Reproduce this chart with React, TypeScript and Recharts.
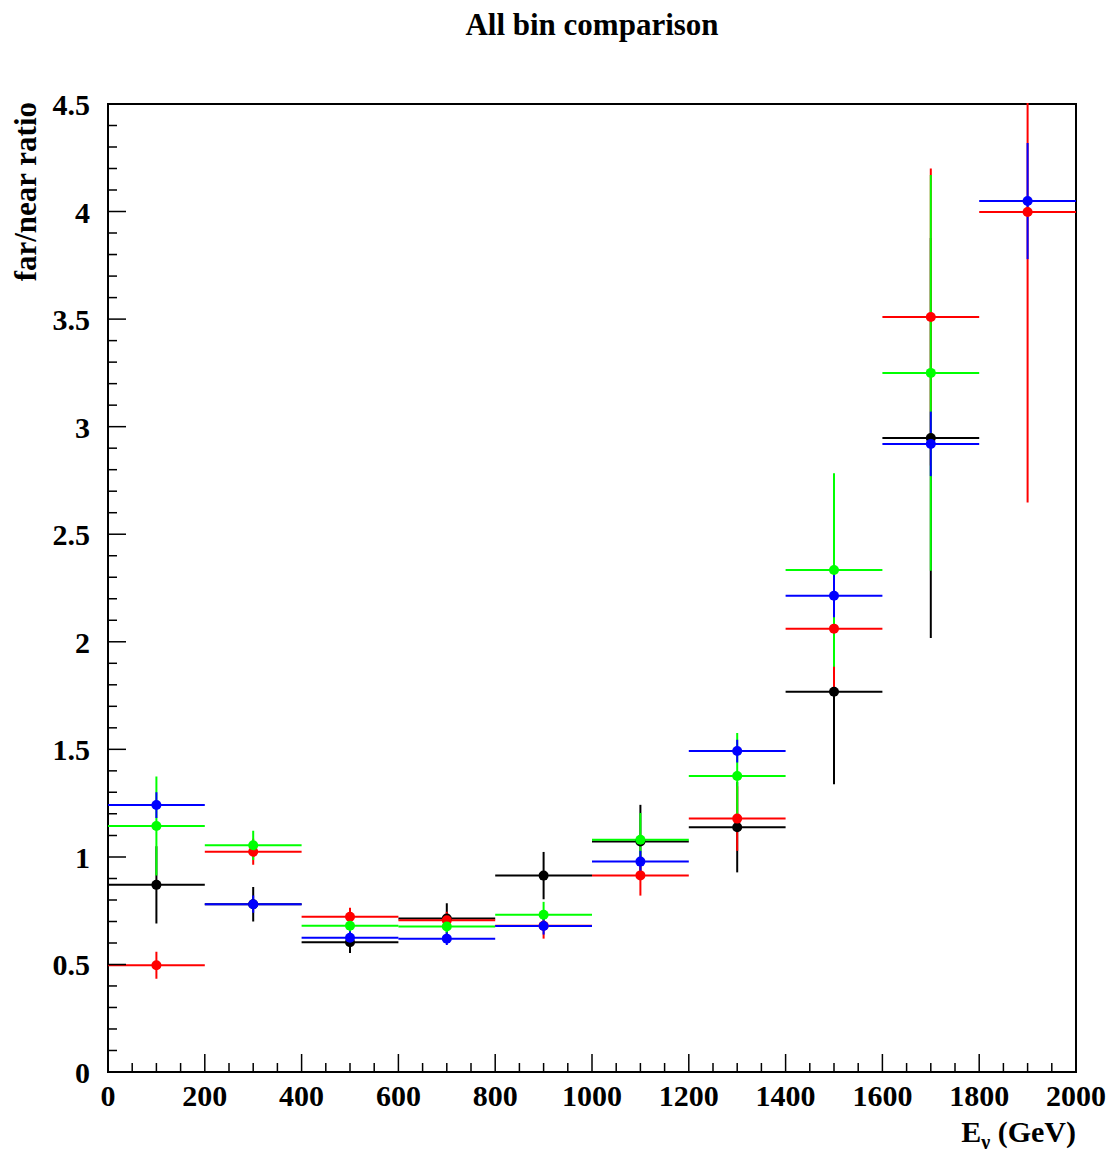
import React from "react";
import { ComposedChart, Scatter, ErrorBar, XAxis, YAxis, ReferenceArea } from "recharts";

// bin centres in GeV, each bin is 200 GeV wide
const binCenters = [100, 300, 500, 700, 900, 1100, 1300, 1500, 1700, 1900];
const binHalfWidths = [100, 100, 100, 100, 100, 100, 100, 100, 100, 100];

// far/near ratio per bin (null = no point)
const blackRatio = [0.87, 0.78, 0.603, 0.714, 0.913, 1.072, 1.138, 1.768, 2.947, null];
const blackErr = [0.18, 0.08, 0.05, 0.07, 0.11, 0.17, 0.21, 0.43, 0.93, null];
const redRatio = [0.496, 1.024, 0.722, 0.705, 0.68, 0.914, 1.178, 2.061, 3.51, 3.998];
const redErr = [0.063, 0.06, 0.042, 0.04, 0.06, 0.094, 0.15, 0.29, 0.69, 1.35];
const greenRatio = [1.144, 1.054, 0.68, 0.676, 0.731, 1.08, 1.376, 2.334, 3.25, null];
const greenErr = [0.23, 0.068, 0.04, 0.04, 0.06, 0.124, 0.2, 0.45, 0.92, null];
const blueRatio = [1.241, 0.78, 0.624, 0.62, 0.679, 0.978, 1.492, 2.214, 2.92, 4.049];
const blueErr = [0.06, 0.04, 0.03, 0.03, 0.04, 0.05, 0.053, 0.1, 0.15, 0.27];

const xMajorTicks = [0, 200, 400, 600, 800, 1000, 1200, 1400, 1600, 1800, 2000];
const yMajorTicks = [0, 0.5, 1, 1.5, 2, 2.5, 3, 3.5, 4, 4.5];

// minor ticks: 4 divisions on x, 5 on y
const xTicks = Array.from({ length: 41 }, (_, i) => i * 50);
const yTicks = Array.from({ length: 46 }, (_, i) => Math.round(i) / 10);

const FONT = "'Liberation Serif', 'Times New Roman', serif";

const makeRows = (vals: (number | null)[], errs: (number | null)[]) =>
  binCenters
    .map((x, i) => ({ x, y: vals[i], ex: binHalfWidths[i], ey: errs[i] }))
    .filter((d) => d.y !== null);

const series = [
  { name: "black", color: "#000000", rows: makeRows(blackRatio, blackErr) },
  { name: "red", color: "#ff0000", rows: makeRows(redRatio, redErr) },
  { name: "green", color: "#00ff00", rows: makeRows(greenRatio, greenErr) },
  { name: "blue", color: "#0000ff", rows: makeRows(blueRatio, blueErr) },
];

const isMajor = (list: number[], v: number) => list.some((m) => Math.abs(m - v) < 1e-6);

const XTick = (props: any) => {
  const { x, y, payload } = props;
  const major = isMajor(xMajorTicks, payload.value);
  return (
    <g>
      <line x1={x} x2={x} y1={y} y2={y - (major ? 18 : 9)} stroke="#000" strokeWidth={1.5} />
      {major && (
        <text x={x} y={y + 34} textAnchor="middle" fontFamily={FONT} fontWeight="bold" fontSize={30} fill="#000">
          {payload.value}
        </text>
      )}
    </g>
  );
};

const YTick = (props: any) => {
  const { x, y, payload } = props;
  const major = isMajor(yMajorTicks, payload.value);
  return (
    <g>
      <line x1={x} x2={x + (major ? 18 : 9)} y1={y} y2={y} stroke="#000" strokeWidth={1.5} />
      {major && (
        <text x={x - 18} y={y + 11} textAnchor="end" fontFamily={FONT} fontWeight="bold" fontSize={30} fill="#000">
          {payload.value}
        </text>
      )}
    </g>
  );
};

const dot = (color: string) => (props: any) =>
  <circle cx={props.cx} cy={props.cy} r={5} fill={color} />;

const App = () => {
  return (
    <div style={{ position: "absolute", left: 0, top: 0, width: 1111, height: 1153, background: "#fff" }}>
      {/* clip error bars that run past the top of the frame, keep the y labels */}
      <div
        style={{
          position: "absolute",
          left: 0,
          top: 0,
          width: 1111,
          height: 1153,
          clipPath: "polygon(0 0, 100px 0, 100px 103px, 1111px 103px, 1111px 1153px, 0 1153px)",
        }}
      >
        <ComposedChart
          width={1111}
          height={1153}
          margin={{ top: 104, right: 35, left: 28, bottom: 21 }}
        >
          <XAxis
            type="number"
            dataKey="x"
            domain={[0, 2000]}
            ticks={xTicks}
            interval={0}
            allowDataOverflow
            axisLine={false}
            tickLine={false}
            tickSize={0}
            tickMargin={0}
            height={60}
            tick={XTick}
          />
          <YAxis
            type="number"
            dataKey="y"
            domain={[0, 4.5]}
            ticks={yTicks}
            interval={0}
            allowDataOverflow
            axisLine={false}
            tickLine={false}
            tickSize={0}
            tickMargin={0}
            width={80}
            tick={YTick}
          />
          <ReferenceArea x1={0} x2={2000} y1={0} y2={4.5} fill="none" fillOpacity={0} stroke="#000" strokeWidth={2} />
          {series.map((s) => (
            <Scatter key={s.name} data={s.rows} fill={s.color} isAnimationActive={false} shape={dot(s.color)}>
              <ErrorBar dataKey="ex" direction="x" width={0} stroke={s.color} strokeWidth={2} />
              <ErrorBar dataKey="ey" direction="y" width={0} stroke={s.color} strokeWidth={2} />
            </Scatter>
          ))}
        </ComposedChart>
      </div>
      <div
        style={{
          position: "absolute",
          left: 0,
          width: 1184,
          top: 8,
          textAlign: "center",
          fontFamily: FONT,
          fontWeight: "bold",
          fontSize: 31,
          lineHeight: "34px",
        }}
      >
        All bin comparison
      </div>
      <svg width={1111} height={1153} style={{ position: "absolute", left: 0, top: 0, pointerEvents: "none" }}>
        <text
          transform="translate(36,102) rotate(-90)"
          textAnchor="end"
          fontFamily={FONT}
          fontWeight="bold"
          fontSize={31}
          fill="#000"
        >
          far/near ratio
        </text>
        <text x={1076} y={1142} textAnchor="end" fontFamily={FONT} fontWeight="bold" fontSize={30} fill="#000">
          E
          <tspan fontSize={20} dy={7}>ν</tspan>
          <tspan dy={-7}> (GeV)</tspan>
        </text>
      </svg>
    </div>
  );
};

export default App;
